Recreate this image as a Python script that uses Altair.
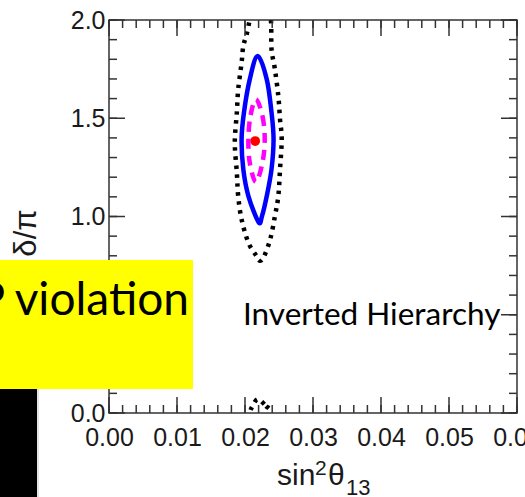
import altair as alt
import pandas as pd

# Allowed region in the (sin^2 theta13, delta/pi) plane, inverted hierarchy
best_fit_x = [0.0215]
best_fit_d = [1.384]

# inner contour (magenta, dashed)
magenta_x = [0.0216, 0.02257, 0.0229, 0.02257, 0.0216, 0.0207, 0.0205, 0.0208]
magenta_d = [1.596, 1.511, 1.393, 1.274, 1.176, 1.274, 1.393, 1.511]

# middle contour (blue, solid)
blue_x = [0.02187, 0.0232, 0.0239, 0.0242, 0.0239, 0.0232, 0.0225, 0.0220,
          0.0205, 0.01975, 0.0195, 0.01985, 0.0207]
blue_d = [1.817, 1.698, 1.530, 1.393, 1.240, 1.104, 1.002, 0.971,
          1.104, 1.240, 1.393, 1.530, 1.698]

# outer contour (black, dotted); delta above 2 wraps round to the bottom
dotted_x = [0.0219, 0.0231, 0.0238, 0.0239, 0.0244, 0.0249, 0.02515, 0.0254,
            0.02515, 0.0249, 0.0244, 0.0237, 0.0227, 0.0221, 0.0217, 0.0205,
            0.0195, 0.0190, 0.0188, 0.0185, 0.0188, 0.0190, 0.0195, 0.01975,
            0.02025, 0.0207, 0.0211]
dotted_d = [2.070, 2.035, 2.000, 1.851, 1.749, 1.613, 1.494, 1.393,
            1.240, 1.104, 1.002, 0.883, 0.790, 0.776, 0.798, 0.867,
            0.985, 1.104, 1.223, 1.376, 1.529, 1.647, 1.783, 1.868,
            1.927, 2.000, 2.035]

x_major = [0.00, 0.01, 0.02, 0.03, 0.04, 0.05, 0.06]
y_major = [0.0, 0.5, 1.0, 1.5, 2.0]
x_minor = [round(i * 0.002, 3) for i in range(31)]
y_minor = [round(i * 0.1, 1) for i in range(21)]

W, H = 408, 393
FRAME = "#333333"
LABEL = "#1a1a1a"

xs = alt.Scale(domain=[0, 0.06], nice=False, zero=False)
ys = alt.Scale(domain=[0, 2], nice=False, zero=False)
x_axis = alt.Axis(values=x_major, format=".2f", ticks=False, tickSize=0, domain=False,
                  grid=False, labelFont="Liberation Sans", labelFontSize=25,
                  labelColor=LABEL, labelPadding=12, labelFlush=False,
                  labelOverlap=False, title=None, zindex=0)
y_axis = alt.Axis(values=y_major, format=".1f", ticks=False, tickSize=0, domain=False,
                  grid=False, labelFont="Liberation Sans", labelFontSize=25,
                  labelColor=LABEL, labelPadding=4, labelFlush=False,
                  labelOverlap=False, title=None, zindex=0)


def xenc(f):
    return alt.X(f"{f}:Q", scale=xs, axis=x_axis)


def yenc(f):
    return alt.Y(f"{f}:Q", scale=ys, axis=y_axis)


def contour_df(xv, dv):
    return pd.DataFrame({"x": xv, "d": dv, "i": list(range(len(xv)))})


def contour(df, color, width, dash=None, field="d"):
    kw = dict(interpolate="cardinal-closed", clip=True, color=color,
              strokeWidth=width, strokeCap="butt", strokeJoin="round")
    if dash:
        kw["strokeDash"] = dash
    return alt.Chart(df).mark_line(**kw).encode(
        x=xenc("x"), y=yenc(field), order="i:Q")


dotted_df = contour_df(dotted_x, dotted_d)
dotted = contour(dotted_df, "#000000", 4.5, [3.5, 5.5])
dotted_wrap = contour(dotted_df, "#000000", 4.5, [3.5, 5.5], field="dw").transform_calculate(
    dw="datum.d - 2")
blue = contour(contour_df(blue_x, blue_d), "#0000ff", 4.5)
magenta = contour(contour_df(magenta_x, magenta_d), "#ff00ff", 4.5, [10, 7])
dot = alt.Chart(pd.DataFrame({"x": best_fit_x, "d": best_fit_d})).mark_circle(
    color="#ff0000", opacity=1, size=95).encode(x=xenc("x"), y=yenc("d"))


# inward tick marks on all four sides
def xticks(vals, length):
    df = pd.DataFrame({"t": vals})
    rule = alt.Chart(df).mark_rule(color=FRAME, strokeWidth=1.5)
    return [rule.encode(x=xenc("t"), y=alt.value(H), y2=alt.value(H - length)),
            rule.encode(x=xenc("t"), y=alt.value(0), y2=alt.value(length))]


def yticks(vals, length):
    df = pd.DataFrame({"t": vals})
    rule = alt.Chart(df).mark_rule(color=FRAME, strokeWidth=1.5)
    return [rule.encode(y=yenc("t"), x=alt.value(0), x2=alt.value(length)),
            rule.encode(y=yenc("t"), x=alt.value(W), x2=alt.value(W - length))]


ticks = xticks(x_minor, 8) + xticks(x_major, 16) + yticks(y_minor, 8) + yticks(y_major, 16)

one = pd.DataFrame({"a": [0]})


def label(text, x, y, size, font="Liberation Sans", align="left", baseline="alphabetic",
          angle=0, color=LABEL):
    kw = dict(text=text, font=font, fontSize=size, align=align, baseline=baseline,
              color=color)
    if angle:
        kw["angle"] = angle
    return alt.Chart(one).mark_text(**kw).encode(x=alt.value(x), y=alt.value(y))


x_title = [
    label("sin", 168, 465, 30),
    label("2", 206, 455, 21),
    label("θ", 219, 465, 30),
    label("13", 237, 475, 22),
]
y_title = label("δ/π", -82, 213, 31, align="center", baseline="middle", angle=270)

hier = label("Inverted Hierarchy", 134, 305, 31.5, font="Lato", color="#000000")

yellow = alt.Chart(one).mark_rect(color="#ffff00").encode(
    x=alt.value(-109), x2=alt.value(84), y=alt.value(240), y2=alt.value(369))
cp_text = label("CP violation", 80, 295, 46, font="Lato", align="right", color="#000000")
black = alt.Chart(one).mark_rect(color="#000000").encode(
    x=alt.value(-109), x2=alt.value(-72), y=alt.value(369), y2=alt.value(480))
edge = alt.Chart(one).mark_rule(color="#c8c8c8", strokeWidth=1).encode(
    x=alt.value(-71), y=alt.value(369), y2=alt.value(480))

chart = alt.layer(
    dotted, dotted_wrap, blue, magenta, dot, *ticks,
    *x_title, y_title, hier, yellow, cp_text, black, edge,
).properties(
    width=W, height=H,
    autosize=alt.AutoSizeParams(type="none"),
    padding={"left": 109, "top": 20, "right": 8, "bottom": 84},
).configure_view(stroke=FRAME, strokeWidth=1.5)

chart.save("out.html", embed_options={"renderer": "svg", "actions": False})
